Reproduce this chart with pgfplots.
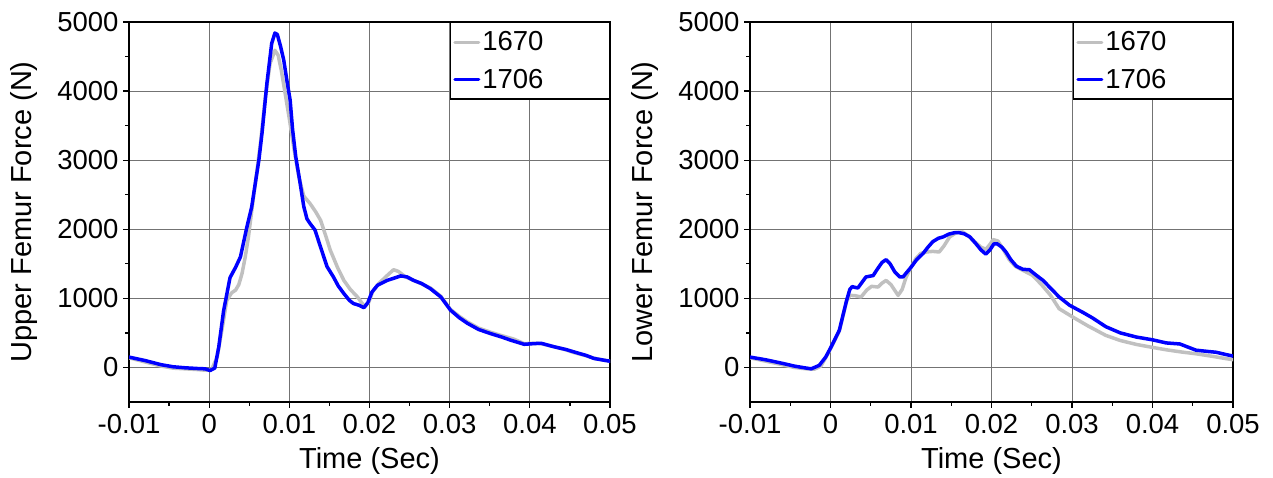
\documentclass[border=0pt]{standalone}
\usepackage{fontspec}
\setmainfont{Liberation Sans}
\usepackage{pgfplots}
\pgfplotsset{compat=1.18}
\definecolor{g1670}{RGB}{192,192,192}
\definecolor{b1706}{RGB}{0,0,255}
\newcommand{\tickf}{\fontsize{27.5}{30}\selectfont}
\newcommand{\labf}{\fontsize{29}{32}\selectfont}
\pgfplotsset{femur/.style={
  scale only axis, width=481pt, height=380pt,
  xmin=-0.01, xmax=0.05, ymin=-500, ymax=5000,
  xtick={-0.01,0,0.01,0.02,0.03,0.04,0.05},
  xticklabels={-0.01,0,0.01,0.02,0.03,0.04,0.05},
  ytick={0,1000,2000,3000,4000,5000},
  yticklabels={0,1000,2000,3000,4000,5000},
  minor x tick num=1, minor y tick num=1,
  tick pos=left, tick align=outside,
  major tick length=6pt, minor tick length=4pt,
  grid=major, major grid style={black!55, line width=1pt},
  axis line style={line width=1.5pt},
  every tick/.style={black, line width=1.2pt},
  tick label style={font=\tickf},
  xticklabel style={yshift=-3pt},
  yticklabel style={xshift=-1pt},
  every axis x label/.style={at={(axis description cs:0.5,0)}, yshift=-59pt, anchor=center, font=\labf},
  every axis y label/.style={at={(axis description cs:0,0.5)}, xshift=-105pt, rotate=90, anchor=center, font=\labf},
  xlabel={Time (Sec)},
  scaled ticks=false,
  legend style={at={(1,1)}, anchor=north east, draw=black, line width=1.5pt,
    font=\tickf, inner xsep=3pt, inner ysep=7pt, row sep=13pt},
  legend cell align=left,
  legend image code/.code={\draw[#1, line width=3pt] (0pt,0pt) -- (24pt,0pt);},
  every axis plot/.append style={line width=3.5pt, line join=round, line cap=round},
}}
\begin{document}
\begin{tikzpicture}[x=1pt,y=1pt]
\path[use as bounding box] (0,0) rectangle (1273,478);
\begin{axis}[femur, at={(129pt,76pt)}, anchor=south west, ylabel={Upper Femur Force (N)}]
\addplot[g1670] coordinates {
(-0.0100,140) (-0.0080,80) (-0.0060,20) (-0.0045,-10) (-0.0030,-20) (-0.0015,-30)
(-0.0005,-40) (0.0003,-30) (0.0010,150) (0.0016,550) (0.0022,970) (0.0028,1080)
(0.0033,1120) (0.0037,1200) (0.0041,1360) (0.0045,1600) (0.0049,1890) (0.0054,2350)
(0.0058,2700) (0.0064,3250) (0.0070,3900) (0.0076,4400) (0.0082,4590) (0.0086,4520)
(0.0090,4300) (0.0095,3950) (0.0100,3600) (0.0106,3150) (0.0112,2750) (0.0118,2480)
(0.0126,2370) (0.0133,2250) (0.0139,2130) (0.0145,1920) (0.0151,1700) (0.0160,1450)
(0.0168,1260) (0.0176,1130) (0.0185,1020) (0.0190,940) (0.0194,880) (0.0199,940)
(0.0204,1100) (0.0212,1220) (0.0222,1330) (0.0230,1415) (0.0236,1390) (0.0245,1310)
(0.0255,1260) (0.0265,1210) (0.0276,1150) (0.0289,1030) (0.0301,840) (0.0312,740)
(0.0322,660) (0.0336,570) (0.0351,510) (0.0365,460) (0.0380,410) (0.0393,345)
(0.0405,350) (0.0414,345) (0.0430,300) (0.0445,255) (0.0455,215) (0.0470,170)
(0.0480,135) (0.0490,110) (0.0500,90)};
\addlegendentry{\makebox[122pt][l]{1670}}
\addplot[b1706] coordinates {
(-0.0100,150) (-0.0080,100) (-0.0060,40) (-0.0045,10) (-0.0030,-5) (-0.0015,-15)
(-0.0005,-20) (0.0001,-45) (0.0007,-10) (0.0012,300) (0.0018,820) (0.0026,1300)
(0.0033,1450) (0.0039,1600) (0.0047,2030) (0.0053,2320) (0.0058,2700) (0.0062,3000)
(0.0066,3400) (0.0072,4110) (0.0078,4690) (0.0082,4840) (0.0085,4820) (0.0089,4650)
(0.0093,4450) (0.0097,4150) (0.0101,3870) (0.0104,3450) (0.0108,3050) (0.0113,2700)
(0.0118,2330) (0.0122,2150) (0.0126,2080) (0.0132,1990) (0.0139,1740) (0.0147,1460)
(0.0155,1310) (0.0161,1180) (0.0168,1070) (0.0175,970) (0.0180,925) (0.0187,900)
(0.0193,865) (0.0198,940) (0.0203,1090) (0.0210,1190) (0.0222,1260) (0.0230,1290)
(0.0239,1325) (0.0247,1310) (0.0255,1260) (0.0265,1215) (0.0276,1140) (0.0289,1020)
(0.0301,830) (0.0312,720) (0.0322,640) (0.0336,550) (0.0351,490) (0.0365,440)
(0.0376,395) (0.0393,335) (0.0405,345) (0.0414,350) (0.0430,300) (0.0445,260)
(0.0455,225) (0.0470,175) (0.0480,130) (0.0490,110) (0.0500,90)};
\addlegendentry{\makebox[122pt][l]{1706}}
\end{axis}
\begin{axis}[femur, at={(750pt,76pt)}, anchor=south west, width=483pt, ylabel={Lower Femur Force (N)}]
\addplot[g1670] coordinates {
(-0.0100,140) (-0.0080,90) (-0.0060,40) (-0.0045,0) (-0.0030,-20) (-0.0020,-25)
(-0.0012,20) (-0.0006,140) (0.0000,270) (0.0006,410) (0.0011,530) (0.0016,770)
(0.0020,960) (0.0024,1043) (0.0030,1040) (0.0038,1020) (0.0045,1120) (0.0051,1174)
(0.0059,1164) (0.0064,1220) (0.0069,1260) (0.0075,1200) (0.0084,1043) (0.0089,1130)
(0.0094,1309) (0.0100,1450) (0.0106,1575) (0.0112,1650) (0.0119,1671) (0.0127,1680)
(0.0135,1671) (0.0141,1760) (0.0148,1889) (0.0156,1950) (0.0164,1961) (0.0172,1900)
(0.0180,1810) (0.0187,1740) (0.0193,1710) (0.0198,1780) (0.0202,1850) (0.0208,1830)
(0.0215,1700) (0.0222,1560) (0.0230,1460) (0.0240,1400) (0.0251,1333) (0.0262,1200)
(0.0273,1050) (0.0284,850) (0.0301,729) (0.0320,600) (0.0342,464) (0.0360,390)
(0.0380,333) (0.0400,290) (0.0417,256) (0.0435,225) (0.0454,198) (0.0475,160)
(0.0490,130) (0.0500,112)};
\addlegendentry{\makebox[122pt][l]{1670}}
\addplot[b1706] coordinates {
(-0.0100,150) (-0.0080,110) (-0.0060,60) (-0.0045,20) (-0.0035,0) (-0.0024,-20)
(-0.0014,30) (-0.0006,150) (0.0000,280) (0.0006,420) (0.0011,540) (0.0016,780)
(0.0020,970) (0.0024,1130) (0.0027,1170) (0.0030,1160) (0.0034,1150) (0.0039,1230)
(0.0044,1310) (0.0053,1330) (0.0058,1420) (0.0064,1520) (0.0069,1560) (0.0074,1500)
(0.0080,1380) (0.0086,1310) (0.0090,1310) (0.0095,1380) (0.0100,1450) (0.0107,1560)
(0.0115,1650) (0.0121,1740) (0.0127,1820) (0.0134,1870) (0.0140,1890) (0.0147,1930)
(0.0154,1950) (0.0160,1950) (0.0166,1935) (0.0173,1890) (0.0180,1800) (0.0187,1700)
(0.0193,1640) (0.0198,1700) (0.0203,1790) (0.0207,1790) (0.0213,1740) (0.0218,1670)
(0.0224,1560) (0.0231,1465) (0.0239,1420) (0.0247,1415) (0.0255,1340) (0.0264,1260)
(0.0274,1140) (0.0284,1020) (0.0297,900) (0.0313,800) (0.0325,720) (0.0342,590)
(0.0360,500) (0.0380,440) (0.0400,400) (0.0417,355) (0.0434,340) (0.0445,290)
(0.0454,250) (0.0470,230) (0.0479,220) (0.0490,190) (0.0500,165)};
\addlegendentry{\makebox[122pt][l]{1706}}
\end{axis}
\end{tikzpicture}
\end{document}
